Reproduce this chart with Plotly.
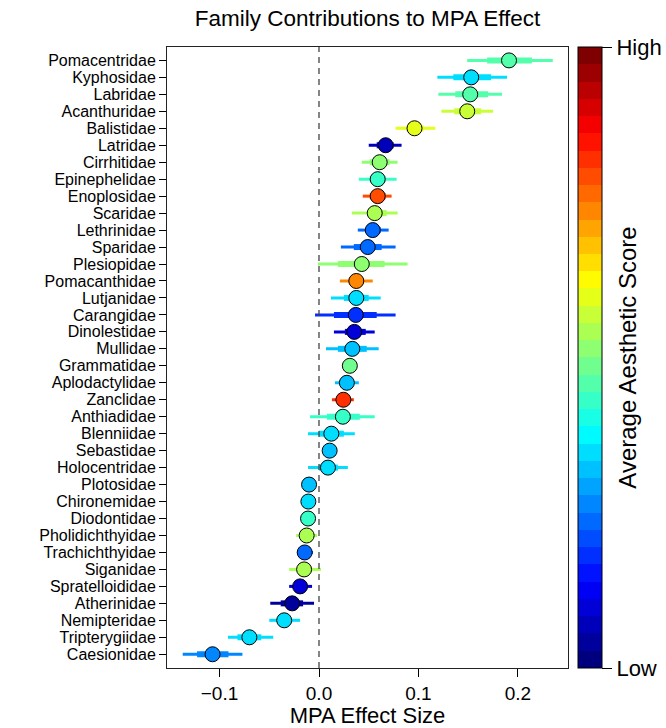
import plotly.graph_objects as go

# ---------------- data ----------------
families = ["Pomacentridae", "Kyphosidae", "Labridae", "Acanthuridae", "Balistidae",
            "Latridae", "Cirrhitidae", "Epinephelidae", "Enoplosidae", "Scaridae",
            "Lethrinidae", "Sparidae", "Plesiopidae", "Pomacanthidae", "Lutjanidae",
            "Carangidae", "Dinolestidae", "Mullidae", "Grammatidae", "Aplodactylidae",
            "Zanclidae", "Anthiadidae", "Blenniidae", "Sebastidae", "Holocentridae",
            "Plotosidae", "Chironemidae", "Diodontidae", "Pholidichthyidae", "Trachichthyidae",
            "Siganidae", "Spratelloididae", "Atherinidae", "Nemipteridae", "Tripterygiidae",
            "Caesionidae"]

effect = [0.191, 0.153, 0.152, 0.149, 0.096,
          0.067, 0.061, 0.059, 0.059, 0.056,
          0.054, 0.049, 0.043, 0.0375, 0.0375,
          0.037, 0.0355, 0.0335, 0.031, 0.028,
          0.0245, 0.024, 0.0124, 0.0107, 0.009,
          -0.010, -0.0107, -0.011, -0.0124, -0.0144,
          -0.015, -0.019, -0.027, -0.035, -0.070,
          -0.107]

inner_lo = [0.169, 0.135, 0.137, 0.136, 0.088,
            0.058, 0.051, 0.051, 0.051, 0.049,
            0.047, 0.035, 0.019, 0.030, 0.025,
            0.015, 0.026, 0.019, None, 0.021,
            0.020, 0.008, 0.000, None, 0.000,
            None, None, None, -0.018, -0.019,
            -0.022, -0.025, -0.0385, -0.042, -0.082,
            -0.1226]

inner_hi = [0.214, 0.173, 0.170, 0.163, 0.105,
            0.075, 0.071, 0.067, 0.067, 0.068,
            0.062, 0.063, 0.066, 0.045, 0.050,
            0.058, 0.047, 0.048, None, 0.034,
            0.030, 0.041, 0.025, None, 0.019,
            None, None, None, -0.006, -0.010,
            -0.007, -0.012, -0.016, -0.0275, -0.058,
            -0.091]

outer_lo = [0.149, 0.119, 0.120, 0.123, 0.077,
            0.050, 0.043, 0.040, 0.044, 0.033,
            0.039, 0.022, -0.001, 0.021, 0.012,
            -0.004, 0.015, 0.007, None, 0.016,
            0.013, -0.009, -0.011, None, -0.011,
            None, None, None, -0.023, -0.022,
            -0.030, -0.030, -0.049, -0.050, -0.0915,
            -0.137]

outer_hi = [0.235, 0.189, 0.184, 0.175, 0.117,
            0.083, 0.079, 0.078, 0.073, 0.079,
            0.070, 0.077, 0.089, 0.054, 0.062,
            0.077, 0.056, 0.060, None, 0.040,
            0.035, 0.056, 0.036, None, 0.029,
            None, None, None, -0.002, -0.006,
            0.002, -0.007, -0.005, -0.019, -0.046,
            -0.077]

aesthetic = [0.45, 0.34, 0.47, 0.575, 0.61,
             0.07, 0.51, 0.43, 0.78, 0.54,
             0.225, 0.225, 0.51, 0.74, 0.34,
             0.175, 0.09, 0.31, 0.49, 0.31,
             0.825, 0.43, 0.34, 0.31, 0.36,
             0.31, 0.335, 0.43, 0.54, 0.225,
             0.53, 0.09, 0.03, 0.34, 0.34,
             0.275]

x_ticks = [-0.1, 0.0, 0.1, 0.2]
x_ticklabels = ["\u22120.1", "0.0", "0.1", "0.2"]

# ---------------- palette (jet ramp, 36 discrete steps) ----------------
anchors = ["#00007F", "#0000FF", "#007FFF", "#00FFFF", "#7FFF7F",
           "#FFFF00", "#FF7F00", "#FF0000", "#7F0000"]


def h2rgb(h):
    h = h.lstrip("#")
    return [int(h[i:i + 2], 16) for i in (0, 2, 4)]


anchor_rgb = [h2rgb(a) for a in anchors]


def ramp(t):
    seg = t * (len(anchor_rgb) - 1)
    k = min(int(seg), len(anchor_rgb) - 2)
    f = seg - k
    a, b = anchor_rgb[k], anchor_rgb[k + 1]
    c = [round(a[j] + (b[j] - a[j]) * f) for j in range(3)]
    return "#%02X%02X%02X" % tuple(c)


n_col = len(families)
palette = [ramp(k / (n_col - 1)) for k in range(n_col)]
colorscale = []
for k, c in enumerate(palette):
    colorscale.append([k / n_col, c])
    colorscale.append([(k + 1) / n_col, c])


def bin_color(s):
    return palette[min(int(s * n_col), n_col - 1)]


ypos = list(range(1, len(families) + 1))

fig = go.Figure()

for i in range(len(families)):
    col = bin_color(aesthetic[i])
    if outer_lo[i] is not None:
        fig.add_trace(go.Scatter(x=[outer_lo[i], outer_hi[i]], y=[ypos[i], ypos[i]],
                                 mode="lines", line=dict(color=col, width=3),
                                 hoverinfo="skip", showlegend=False))
    if inner_lo[i] is not None:
        fig.add_trace(go.Scatter(x=[inner_lo[i], inner_hi[i]], y=[ypos[i], ypos[i]],
                                 mode="lines", line=dict(color=col, width=6),
                                 hoverinfo="skip", showlegend=False))

fig.add_trace(go.Scatter(
    x=effect, y=ypos, mode="markers", text=families, showlegend=False,
    marker=dict(size=15, color=aesthetic, colorscale=colorscale, cmin=0, cmax=1,
                line=dict(color="black", width=1), showscale=True,
                colorbar=dict(thickness=24, thicknessmode="pixels",
                              len=1, lenmode="fraction", y=0.5, yanchor="middle",
                              x=1.025, xanchor="left", xpad=0, ypad=0,
                              outlinewidth=1, outlinecolor="black",
                              tickvals=[0, 1], ticktext=["Low", "High"],
                              ticks="outside", ticklen=10, tickcolor="black",
                              tickfont=dict(size=22, color="black"),
                              title=dict(text="Average Aesthetic Score", side="right",
                                         font=dict(size=24, color="black"))))))

fig.add_vline(x=0, line=dict(color="#444444", width=1.3, dash="6px,5px"))

fig.update_layout(
    width=666, height=728,
    margin=dict(l=167, r=98, t=47, b=60, autoexpand=False),
    paper_bgcolor="white", plot_bgcolor="white",
    font=dict(family="Liberation Sans, Arial, sans-serif", color="black"),
    title=dict(text="Family Contributions to MPA Effect", x=0.5, xref="paper",
               y=1 - 18 / 728, yref="container", yanchor="middle",
               font=dict(size=22.5, color="black")),
    showlegend=False,
)
fig.update_xaxes(range=[-0.1528, 0.2503], tickvals=x_ticks, ticktext=x_ticklabels,
                 ticks="outside", ticklen=8, tickcolor="black", showline=True, mirror=True,
                 linecolor="#222222", linewidth=1, showgrid=False, zeroline=False,
                 automargin=False,
                 tickfont=dict(size=19), title=dict(text="MPA Effect Size", font=dict(size=22), standoff=8))
fig.update_yaxes(range=[36.81, 0.21], tickvals=ypos, ticktext=families,
                 ticks="outside", ticklen=7, tickcolor="black", showline=True, mirror=True,
                 linecolor="#222222", linewidth=1, showgrid=False, zeroline=False,
                 automargin=False,
                 tickfont=dict(size=16))

fig.write_html("out.html", config={"displayModeBar": False},
               post_script="document.body.style.margin='0px';document.body.style.overflow='hidden';")
